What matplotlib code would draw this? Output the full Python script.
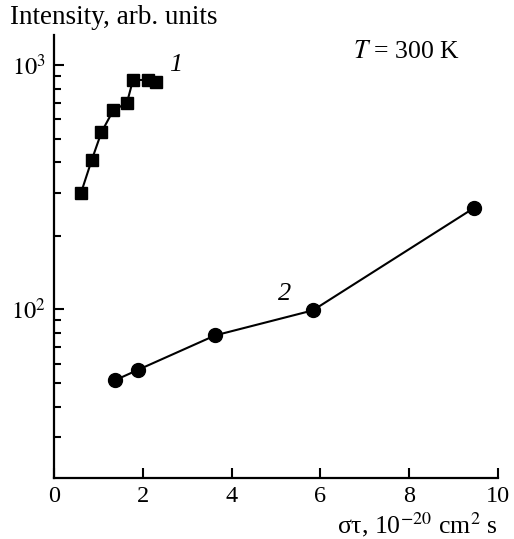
import matplotlib
matplotlib.use('Agg')
import matplotlib.pyplot as plt
from matplotlib.ticker import LogLocator, NullFormatter, FixedLocator

plt.rcParams['font.family'] = ['Liberation Serif', 'DejaVu Serif']
plt.rcParams['mathtext.fontset'] = 'stix'

# curve 1 (squares)
x1 = [0.61, 0.85, 1.07, 1.34, 1.64, 1.78, 2.11, 2.30]
y1 = [300, 408, 531, 654, 697, 868, 868, 855]
# curve 2 (circles)
x2 = [1.37, 1.90, 3.63, 5.83, 9.46]
y2 = [51.2, 56.6, 78.2, 99, 260]

xticks = [0, 2, 4, 6, 8, 10]

fig = plt.figure(figsize=(5.14, 5.39), dpi=100)
ax = fig.add_axes([0.105, 0.1132, 0.864, 0.822])

ax.plot(x1, y1, 'k-', lw=1.5, marker='s', ms=8.5)
ax.plot(x2, y2, 'k-', lw=1.5, marker='o', ms=10)

ax.set_yscale('log')
ax.set_xlim(0, 10)
ax.set_ylim(20.4, 1327)

ax.xaxis.set_major_locator(FixedLocator(xticks))
ax.set_xticklabels([str(t) for t in xticks])
ax.yaxis.set_major_locator(FixedLocator([100, 1000]))
ax.set_yticklabels(['$10^2$', '$10^3$'])
ax.yaxis.set_minor_locator(LogLocator(base=10, subs=range(2, 10)))
ax.yaxis.set_minor_formatter(NullFormatter())

for s in ['top', 'right']:
    ax.spines[s].set_visible(False)
for s in ['left', 'bottom']:
    ax.spines[s].set_linewidth(1.6)

ax.tick_params(which='major', direction='in', length=7, width=1.5, labelsize=17.5)
ax.tick_params(axis='x', pad=6)
ax.tick_params(axis='y', which='major', pad=6)
ax.tick_params(which='minor', direction='in', length=5, width=1.5)

ax.text(1.0, -0.124, r'στ, 10$^{-20}$ cm$^2$ s', transform=ax.transAxes,
        ha='right', va='baseline', fontsize=18.5)
fig.text(0.02, 0.968, 'Intensity, arb. units', ha='left', va='center', fontsize=19.5)

ax.text(2.75, 1000, '1', fontsize=19, style='italic', ha='center', va='center')
ax.text(5.2, 116, '2', fontsize=19, style='italic', ha='center', va='center')
ax.text(7.93, 1130, r'$T$ = 300 K', fontsize=18.5, ha='center', va='center')

fig.savefig('out.png', dpi=100)
